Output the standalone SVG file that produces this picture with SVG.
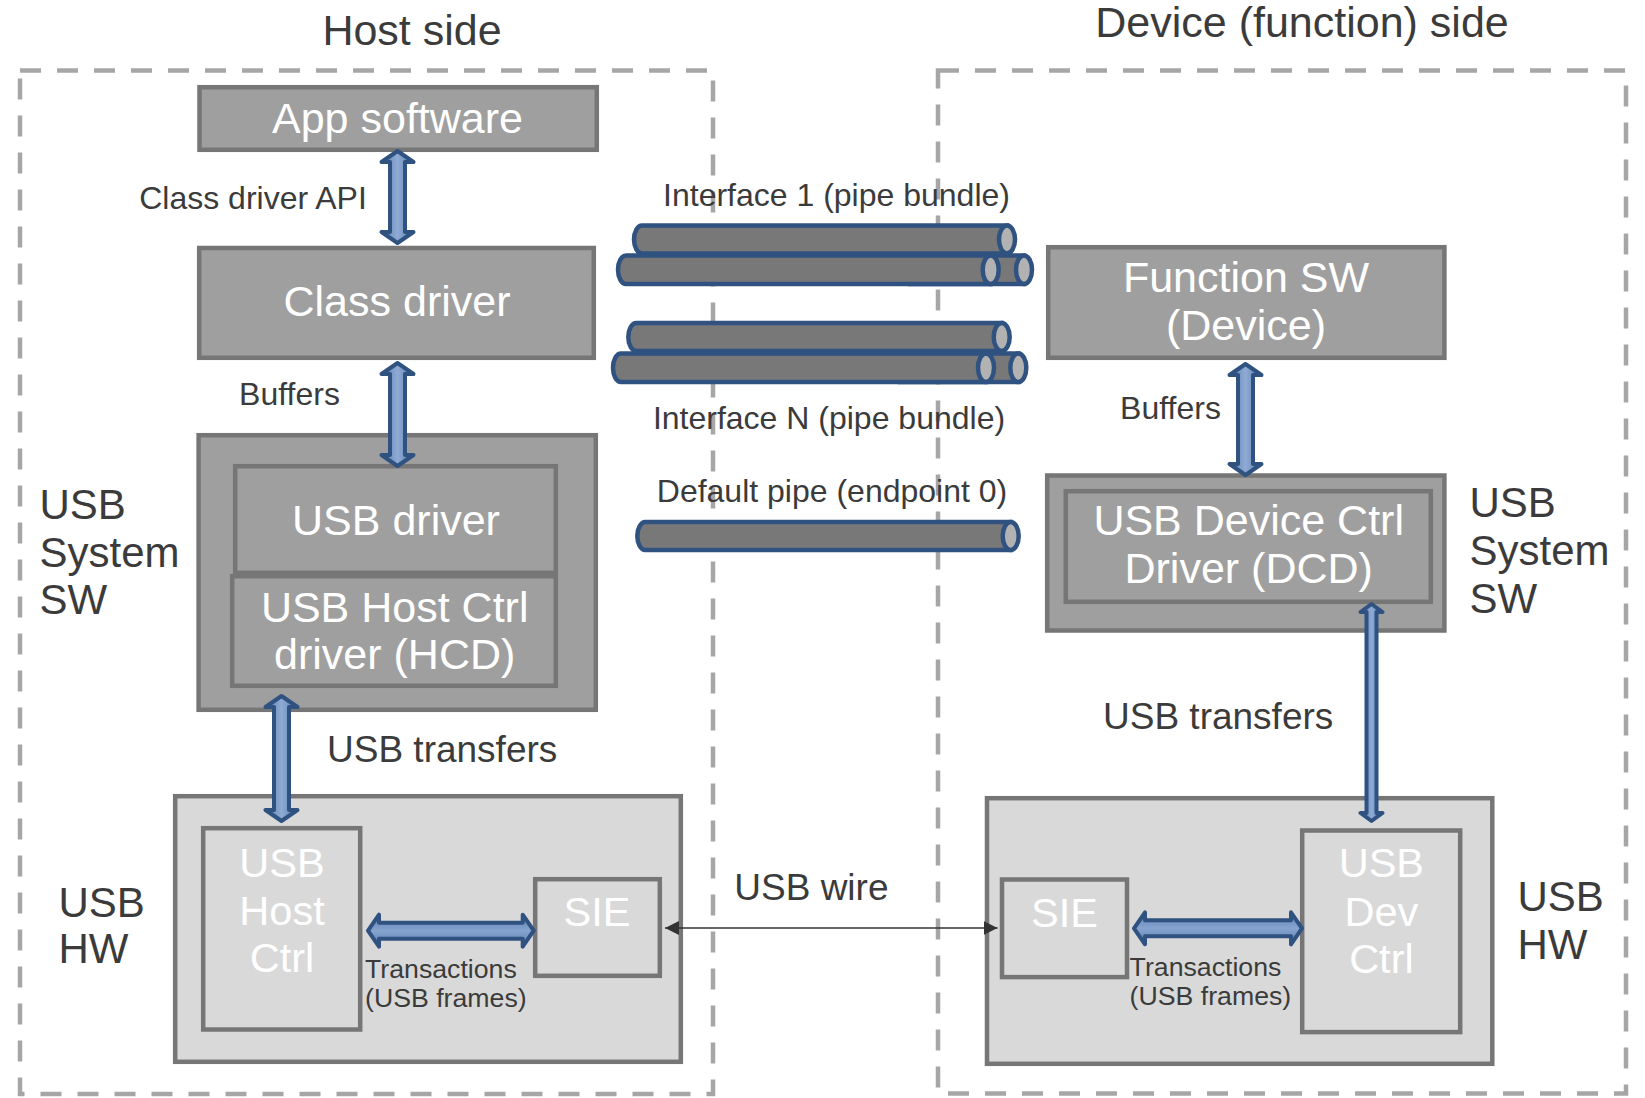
<svg xmlns="http://www.w3.org/2000/svg" width="1645" height="1098" viewBox="0 0 1645 1098">
  <defs>
    <style>
      text { font-family: "Liberation Sans", Arial, sans-serif; }
      .title { font-size: 43px; fill: #3b3b3b; }
      .lbl { font-size: 32px; fill: #3b3b3b; }
      .lbl37 { font-size: 37px; fill: #3b3b3b; }
      .side { font-size: 42px; fill: #3b3b3b; }
      .small { font-size: 26.7px; fill: #3b3b3b; }
      .in { font-size: 43px; fill: #ffffff; text-anchor: middle; }
      .in41 { font-size: 41.5px; fill: #ffffff; text-anchor: middle; }
      .mid { text-anchor: middle; }
      .zone { fill: none; stroke: #a6a6a6; stroke-width: 4.5; stroke-dasharray: 21 16; }
      .dark { fill: #9f9f9f; stroke: #767676; stroke-width: 4.5; }
      .light { fill: #d9d9d9; stroke: #767676; stroke-width: 4.5; }
      .varrow { fill: url(#gv); stroke: #2f5281; stroke-width: 4; stroke-linejoin: round; }
      .harrow { fill: url(#gh); stroke: #2f5281; stroke-width: 4; stroke-linejoin: round; }
      .pipe { fill: #787878; stroke: #2f5281; stroke-width: 4.5; }
      .cap { fill: #b2b2b2; stroke: #2f5281; stroke-width: 4.5; }
      .wire { stroke: #333333; stroke-width: 1.6; fill: none; }
    </style>
    <linearGradient id="gv" x1="0" y1="0" x2="1" y2="0">
      <stop offset="0" stop-color="#5a7db0"/>
      <stop offset="0.5" stop-color="#8eabd4"/>
      <stop offset="1" stop-color="#5a7db0"/>
    </linearGradient>
    <linearGradient id="gh" x1="0" y1="0" x2="0" y2="1">
      <stop offset="0" stop-color="#5a7db0"/>
      <stop offset="0.5" stop-color="#86a4cf"/>
      <stop offset="1" stop-color="#5a7db0"/>
    </linearGradient>
    <marker id="ah" markerWidth="14" markerHeight="14" refX="14" refY="7" orient="auto-start-reverse" markerUnits="userSpaceOnUse">
      <path d="M0,0 L14,7 L0,14 Z" fill="#333333"/>
    </marker>
  </defs>

  <!-- side titles and dashed zones -->
  <text class="title mid" x="412" y="45">Host side</text>
  <text class="title mid" x="1302" y="37">Device (function) side</text>
  <rect id="host-zone" class="zone" x="20" y="70.5" width="693" height="1023.5"/>
  <rect id="device-zone" class="zone" x="938" y="70.5" width="688" height="1023"/>

  <!-- host side nodes -->
  <g id="app-software">
    <rect class="dark" x="199.5" y="87.2" width="397.3" height="62.6"/>
    <text class="in" x="397.5" y="133">App software</text>
  </g>
  <g id="class-driver">
    <rect class="dark" x="199.2" y="248" width="394.6" height="109.8"/>
    <text class="in" x="397" y="316">Class driver</text>
  </g>
  <g id="host-system-sw">
    <rect class="dark" x="198.6" y="435.2" width="397.2" height="274.6"/>
  </g>
  <g id="usb-driver">
    <rect class="dark" x="235.2" y="466.2" width="320.6" height="106.6"/>
    <text class="in" x="396" y="535">USB driver</text>
  </g>
  <g id="hcd">
    <rect class="dark" x="232.2" y="576.2" width="323.6" height="109.6"/>
    <text class="in" x="394.7" y="621.7">USB Host Ctrl</text>
    <text class="in" x="394.7" y="669">driver (HCD)</text>
  </g>
  <g id="host-hw">
    <rect class="light" x="175.2" y="796.2" width="505.6" height="265.6"/>
  </g>
  <g id="usb-host-ctrl">
    <rect class="light" x="203.2" y="828.2" width="157" height="201.3"/>
    <text class="in41" x="282" y="876.7">USB</text>
    <text class="in41" x="282" y="925">Host</text>
    <text class="in41" x="282" y="971.7">Ctrl</text>
  </g>
  <g id="host-sie">
    <rect class="light" x="535.2" y="879.2" width="124.6" height="96.6"/>
    <text class="in41" x="597" y="925.7">SIE</text>
  </g>

  <!-- device side nodes -->
  <g id="function-sw">
    <rect class="dark" x="1048.2" y="247.2" width="396.2" height="110.6"/>
    <text class="in" x="1246" y="291.7">Function SW</text>
    <text class="in" x="1246" y="340">(Device)</text>
  </g>
  <g id="device-system-sw">
    <rect class="dark" x="1047.2" y="475.5" width="397.2" height="155"/>
  </g>
  <g id="dcd">
    <rect class="dark" x="1065.8" y="491.2" width="365" height="110.6"/>
    <text class="in" x="1248.7" y="535">USB Device Ctrl</text>
    <text class="in" x="1248.7" y="583.3">Driver (DCD)</text>
  </g>
  <g id="device-hw">
    <rect class="light" x="987" y="798.2" width="505.3" height="265.6"/>
  </g>
  <g id="usb-dev-ctrl">
    <rect class="light" x="1302.2" y="830.5" width="158" height="201.6"/>
    <text class="in41" x="1381.4" y="877.3">USB</text>
    <text class="in41" x="1381.4" y="925.7">Dev</text>
    <text class="in41" x="1381.4" y="973.3">Ctrl</text>
  </g>
  <g id="device-sie">
    <rect class="light" x="1002" y="879.5" width="125" height="97.6"/>
    <text class="in41" x="1064.5" y="926.7">SIE</text>
  </g>

  <!-- pipes between host and device -->
  <g id="interface-1">
    <path class="pipe" d="M1024,255.5 L910,255.5 L910,284 L1024,284 Z"/>
    <ellipse class="cap" cx="1024" cy="269.75" rx="8" ry="14.25"/>
    <path class="pipe" d="M1007,225.5 L642,225.5 A8,14 0 0 0 642,253.5 L1007,253.5 Z"/>
    <ellipse class="cap" cx="1007" cy="239.5" rx="8" ry="14"/>
    <path class="pipe" d="M990.7,255.5 L626,255.5 A8,14.25 0 0 0 626,284 L990.7,284 Z"/>
    <ellipse class="cap" cx="990.7" cy="269.75" rx="8" ry="14.25"/>
  </g>
  <g id="interface-n">
    <path class="pipe" d="M1018.3,353.5 L900,353.5 L900,382 L1018.3,382 Z"/>
    <ellipse class="cap" cx="1018.3" cy="367.75" rx="8" ry="14.25"/>
    <path class="pipe" d="M1001.7,323 L636.3,323 A8,14 0 0 0 636.3,351 L1001.7,351 Z"/>
    <ellipse class="cap" cx="1001.7" cy="337" rx="8" ry="14"/>
    <path class="pipe" d="M986,353.5 L621,353.5 A8,14.25 0 0 0 621,382 L986,382 Z"/>
    <ellipse class="cap" cx="986" cy="367.75" rx="8" ry="14.25"/>
  </g>
  <g id="default-pipe">
    <path class="pipe" d="M1010.7,522 L645.3,522 A8,14 0 0 0 645.3,550 L1010.7,550 Z"/>
    <ellipse class="cap" cx="1010.7" cy="536" rx="8" ry="14"/>
  </g>

  <!-- connectors -->
  <g id="connectors">
    <path class="varrow" d="M397.5,151 L413.5,162 L405,162 L405,232 L413.5,232 L397.5,243 L381.5,232 L390,232 L390,162 L381.5,162 Z"/>
    <path class="varrow" d="M397.5,363 L413.5,374 L405,374 L405,455 L413.5,455 L397.5,466 L381.5,455 L390,455 L390,374 L381.5,374 Z"/>
    <path class="varrow" d="M281.5,696 L297.5,707 L289,707 L289,810 L297.5,810 L281.5,821 L265.5,810 L274,810 L274,707 L265.5,707 Z"/>
    <path class="varrow" d="M1245.5,364 L1261.5,375 L1253,375 L1253,464 L1261.5,464 L1245.5,475 L1229.5,464 L1238,464 L1238,375 L1229.5,375 Z"/>
    <path class="varrow" d="M1371.5,604 L1382.5,612 L1376.5,612 L1376.5,813 L1382.5,813 L1371.5,821 L1360.5,813 L1366.5,813 L1366.5,612 L1360.5,612 Z"/>
    <path class="harrow" d="M368,930.7 L379,914.7 L379,922.7 L522.7,922.7 L522.7,914.7 L533.7,930.7 L522.7,946.7 L522.7,938.7 L379,938.7 L379,946.7 Z"/>
    <path class="harrow" d="M1134,928.3 L1145,912.3 L1145,920.3 L1291,920.3 L1291,912.3 L1302,928.3 L1291,944.3 L1291,936.3 L1145,936.3 L1145,944.3 Z"/>
    <line class="wire" x1="665" y1="928" x2="997.5" y2="928" marker-start="url(#ah)" marker-end="url(#ah)"/>
  </g>

  <!-- labels -->
  <text class="lbl mid" x="253" y="209">Class driver API</text>
  <text class="lbl mid" x="289.5" y="405">Buffers</text>
  <text class="lbl37" x="327" y="761.7">USB transfers</text>
  <text class="side" x="39.5" y="519.3">USB</text>
  <text class="side" x="39.5" y="567.3">System</text>
  <text class="side" x="39.5" y="614">SW</text>
  <text class="side" x="58.5" y="916.7">USB</text>
  <text class="side" x="58.5" y="963.3">HW</text>
  <text class="small" x="365" y="978">Transactions</text>
  <text class="small" x="365" y="1006.7">(USB frames)</text>

  <text class="lbl mid" x="836.5" y="206">Interface 1 (pipe bundle)</text>
  <text class="lbl mid" x="829" y="429">Interface N (pipe bundle)</text>
  <text class="lbl mid" x="832" y="502">Default pipe (endpoint 0)</text>
  <text class="lbl37" x="734.3" y="900">USB wire</text>

  <text class="lbl mid" x="1170.5" y="419">Buffers</text>
  <text class="side" x="1469.5" y="516.7">USB</text>
  <text class="side" x="1469.5" y="565">System</text>
  <text class="side" x="1469.5" y="612.7">SW</text>
  <text class="lbl37" x="1103" y="729">USB transfers</text>
  <text class="side" x="1517.5" y="910.7">USB</text>
  <text class="side" x="1517.5" y="959">HW</text>
  <text class="small" x="1129.6" y="976">Transactions</text>
  <text class="small" x="1129.6" y="1005">(USB frames)</text>
</svg>
